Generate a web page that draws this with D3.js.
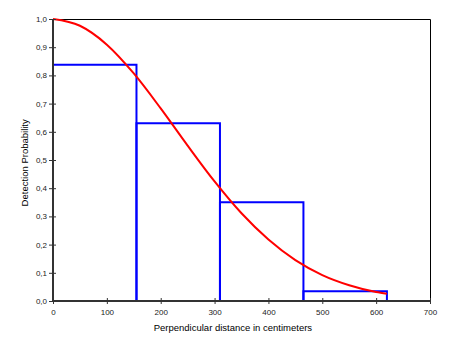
<!DOCTYPE html>
<html>
<head>
<meta charset="utf-8">
<script src="https://cdn.jsdelivr.net/npm/d3@7"></script>
<style>
  body { margin: 0; background: #fff; }
  svg text { font-family: "Liberation Sans", Arial, sans-serif; }
</style>
</head>
<body>
<div id="chart"></div>
<script>
// histogram bins (distance class edges, cm) and detection proportion per class
const binStart = [0, 155, 310, 465];
const binEnd = [155, 310, 465, 620];
const binValue = [0.838, 0.63, 0.35, 0.035];

// fitted detection curve
const curveX = [0, 50, 100, 150, 200, 250, 300, 350, 400, 450, 500, 550, 600, 620];
const curveY = [1.0, 0.976, 0.909, 0.807, 0.683, 0.551, 0.424, 0.311, 0.218, 0.145, 0.092, 0.056, 0.032, 0.026];

const xTicks = [0, 100, 200, 300, 400, 500, 600, 700];
const yTicks = [0, 0.1, 0.2, 0.3, 0.4, 0.5, 0.6, 0.7, 0.8, 0.9, 1.0];

const W = 451, H = 353;
const margin = {top: 19, right: 21, bottom: 52, left: 53};
const width = W - margin.left - margin.right,
      height = H - margin.top - margin.bottom;

const svg = d3.select("#chart").append("svg")
    .attr("width", W)
    .attr("height", H);

const g = svg.append("g")
    .attr("transform", "translate(" + margin.left + "," + margin.top + ")");

const x = d3.scaleLinear().domain([0, 700]).range([0, width]);
const y = d3.scaleLinear().domain([0, 1]).range([height, 0]);

const comma = d => d.toFixed(1).replace(".", ",");

// frame top + right
g.append("path")
    .attr("d", "M0,0.5H" + (width + 0.5) + "V" + height)
    .attr("fill", "none")
    .attr("stroke", "#000")
    .attr("stroke-width", 1);

// bars, open at the bottom (axis line covers it)
const bins = binStart.map((s, i) => ({s: s, e: binEnd[i], v: binValue[i]}));
g.append("g").selectAll("path")
    .data(bins)
    .join("path")
    .attr("d", d => "M" + x(d.s) + "," + y(0) + "V" + y(d.v) + "H" + x(d.e) + "V" + y(0))
    .attr("fill", "none")
    .attr("stroke", "#0000ff")
    .attr("stroke-width", 2);

// curve
const line = d3.line()
    .x(d => x(d[0]))
    .y(d => y(d[1]))
    .curve(d3.curveMonotoneX);

g.append("path")
    .datum(curveX.map((v, i) => [v, curveY[i]]))
    .attr("d", line)
    .attr("fill", "none")
    .attr("stroke", "#ff0000")
    .attr("stroke-width", 2);

// axes on top
const xAxis = g.append("g")
    .attr("transform", "translate(0," + height + ")")
    .call(d3.axisBottom(x).tickValues(xTicks).tickSize(3).tickFormat(d3.format("d")));
xAxis.selectAll(".tick line").attr("y1", -3).attr("stroke", "#333");
xAxis.select(".domain").attr("stroke", "#333").attr("stroke-width", 2).attr("d", "M-1,0H" + width);

const yAxis = g.append("g")
    .call(d3.axisLeft(y).tickValues(yTicks).tickSize(4).tickFormat(comma));
yAxis.selectAll(".tick line").attr("x1", -4).attr("x2", 3).attr("stroke", "#333");
yAxis.select(".domain").attr("stroke", "#333").attr("stroke-width", 2).attr("d", "M0," + height + "V0");

g.selectAll(".tick text")
    .attr("font-size", 8)
    .attr("font-family", "Liberation Sans, Arial, sans-serif")
    .attr("fill", "#222");
xAxis.selectAll(".tick text").attr("dy", "0.71em").attr("y", 8);
yAxis.selectAll(".tick text").attr("x", -6);

// titles
svg.append("text")
    .attr("x", margin.left + x(334))
    .attr("y", 331)
    .attr("text-anchor", "middle")
    .attr("font-size", 9.5)
    .attr("fill", "#000")
    .text("Perpendicular distance in centimeters");

svg.append("text")
    .attr("transform", "translate(28," + (margin.top + y(0.49)) + ") rotate(-90)")
    .attr("text-anchor", "middle")
    .attr("font-size", 9.5)
    .attr("fill", "#000")
    .text("Detection Probability");
</script>
</body>
</html>
